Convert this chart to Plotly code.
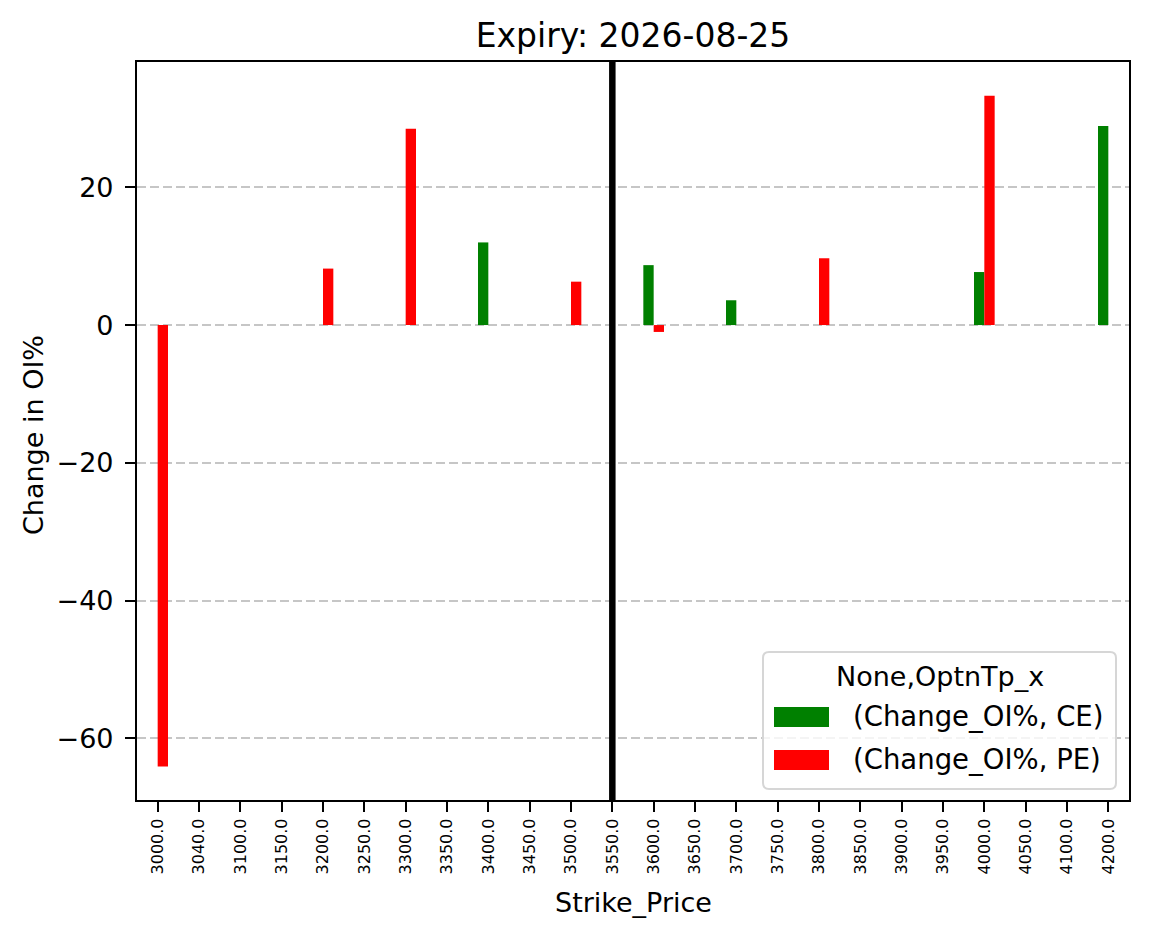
import plotly.graph_objects as go

# ---- data ----
strikes = ["3000.0", "3040.0", "3100.0", "3150.0", "3200.0", "3250.0", "3300.0", "3350.0",
           "3400.0", "3450.0", "3500.0", "3550.0", "3600.0", "3650.0", "3700.0", "3750.0",
           "3800.0", "3850.0", "3900.0", "3950.0", "4000.0", "4050.0", "4100.0", "4200.0"]
ce_change = [None, None, None, None, None, None, None, None,
             12.0, None, None, None, 8.7, None, 3.6, None,
             None, None, None, None, 7.7, None, None, 28.9]
pe_change = [-64.1, None, None, None, 8.2, None, 28.5, None,
             None, None, 6.3, None, -1.0, None, None, None,
             9.7, None, None, None, 33.3, None, None, None]
ce_name = "(Change_OI%, CE)"
pe_name = "(Change_OI%, PE)"
legend_title = "None,OptnTp_x"
spot_strike = "3550.0"
title_text = "Expiry: 2026-08-25"
y_ticks = [-60, -40, -20, 0, 20]
y_ticktext = ["\u221260", "\u221240", "\u221220", "0", "20"]

FONT = "DejaVu Sans"
W, H = 1149, 939
L, R, T, B = 137, 20, 62, 139
PW, PH = W - L - R, H - T - B


def px(x):
    return (x - L) / PW


def py(y):
    return (H - B - y) / PH


fig = go.Figure()
fig.add_trace(go.Bar(x=strikes, y=ce_change, name=ce_name, marker_color="#008000",
                     marker_line_width=0, showlegend=False))
fig.add_trace(go.Bar(x=strikes, y=pe_change, name=pe_name, marker_color="#ff0000",
                     marker_line_width=0, showlegend=False))

# vertical spot line (category index of the spot strike)
spot_idx = strikes.index(spot_strike)
fig.add_shape(type="line", xref="x", yref="paper", x0=spot_idx, x1=spot_idx,
              y0=0, y1=1, line=dict(color="black", width=6.5), layer="above")

# custom legend (matplotlib style)
x0, x1, y0, y1 = px(763), px(1116), py(789), py(652)
rx, ry = 6 / PW, 6 / PH
path = (f"M {x0+rx},{y0} L {x1-rx},{y0} Q {x1},{y0} {x1},{y0+ry} "
        f"L {x1},{y1-ry} Q {x1},{y1} {x1-rx},{y1} L {x0+rx},{y1} Q {x0},{y1} {x0},{y1-ry} "
        f"L {x0},{y0+ry} Q {x0},{y0} {x0+rx},{y0} Z")
fig.add_shape(type="path", path=path, xref="paper", yref="paper",
              fillcolor="rgba(255,255,255,0.8)", line=dict(color="#d6d6d6", width=2), layer="above")
fig.add_shape(type="rect", xref="paper", yref="paper", x0=px(774), x1=px(829),
              y0=py(727), y1=py(707), fillcolor="#008000", line_width=0, layer="above")
fig.add_shape(type="rect", xref="paper", yref="paper", x0=px(774), x1=px(829),
              y0=py(770), y1=py(750), fillcolor="#ff0000", line_width=0, layer="above")
fig.add_annotation(text=legend_title, xref="paper", yref="paper", x=px(939.5), y=py(676),
                   xanchor="center", yanchor="middle", showarrow=False,
                   font=dict(family=FONT, size=27, color="black"))
fig.add_annotation(text=ce_name, xref="paper", yref="paper", x=px(851), y=py(716),
                   xanchor="left", yanchor="middle", showarrow=False,
                   font=dict(family=FONT, size=27.5, color="black"))
fig.add_annotation(text=pe_name, xref="paper", yref="paper", x=px(851), y=py(759),
                   xanchor="left", yanchor="middle", showarrow=False,
                   font=dict(family=FONT, size=27.5, color="black"))

# axis titles
fig.add_annotation(text="Strike_Price", xref="paper", yref="paper", x=0.5, y=py(902),
                   xanchor="center", yanchor="middle", showarrow=False,
                   font=dict(family=FONT, size=27, color="black"))
fig.add_annotation(text="Change in OI%", xref="paper", yref="paper", x=px(33), y=py(435),
                   xanchor="center", yanchor="middle", showarrow=False, textangle=-90,
                   font=dict(family=FONT, size=27, color="black"))

fig.update_layout(
    width=W, height=H,
    margin=dict(l=L, r=R, t=T, b=B, pad=0),
    paper_bgcolor="white", plot_bgcolor="white",
    barmode="group", bargap=0.5, bargroupgap=0,
    font=dict(family=FONT, color="black"),
    title=dict(text=title_text, x=px(633) * PW / W + L / W, xanchor="center",
               y=1 - 35 / H, yanchor="middle", yref="container",
               font=dict(family=FONT, size=33, color="black")),
    showlegend=False,
)
fig.update_xaxes(type="category", range=[-0.5, 23.5], showgrid=False, zeroline=False,
                 showline=True, linecolor="black", linewidth=2.2, mirror=True,
                 ticks="outside", ticklen=10, tickwidth=2.2, tickcolor="black",
                 tickangle=-90, tickfont=dict(family=FONT, size=16, color="black"))
fig.update_yaxes(range=[-68.97, 38.2], tickvals=y_ticks, ticktext=y_ticktext,
                 showgrid=True, gridcolor="#c6c6c6", gridwidth=2, griddash="9px,4px",
                 zeroline=False, showline=True, linecolor="black", linewidth=2.2, mirror=True,
                 ticks="outside", ticklen=10, tickwidth=2.2, tickcolor="black",
                 ticklabelstandoff=6,
                 tickfont=dict(family=FONT, size=27, color="black"))

fig.write_html("out.html")
